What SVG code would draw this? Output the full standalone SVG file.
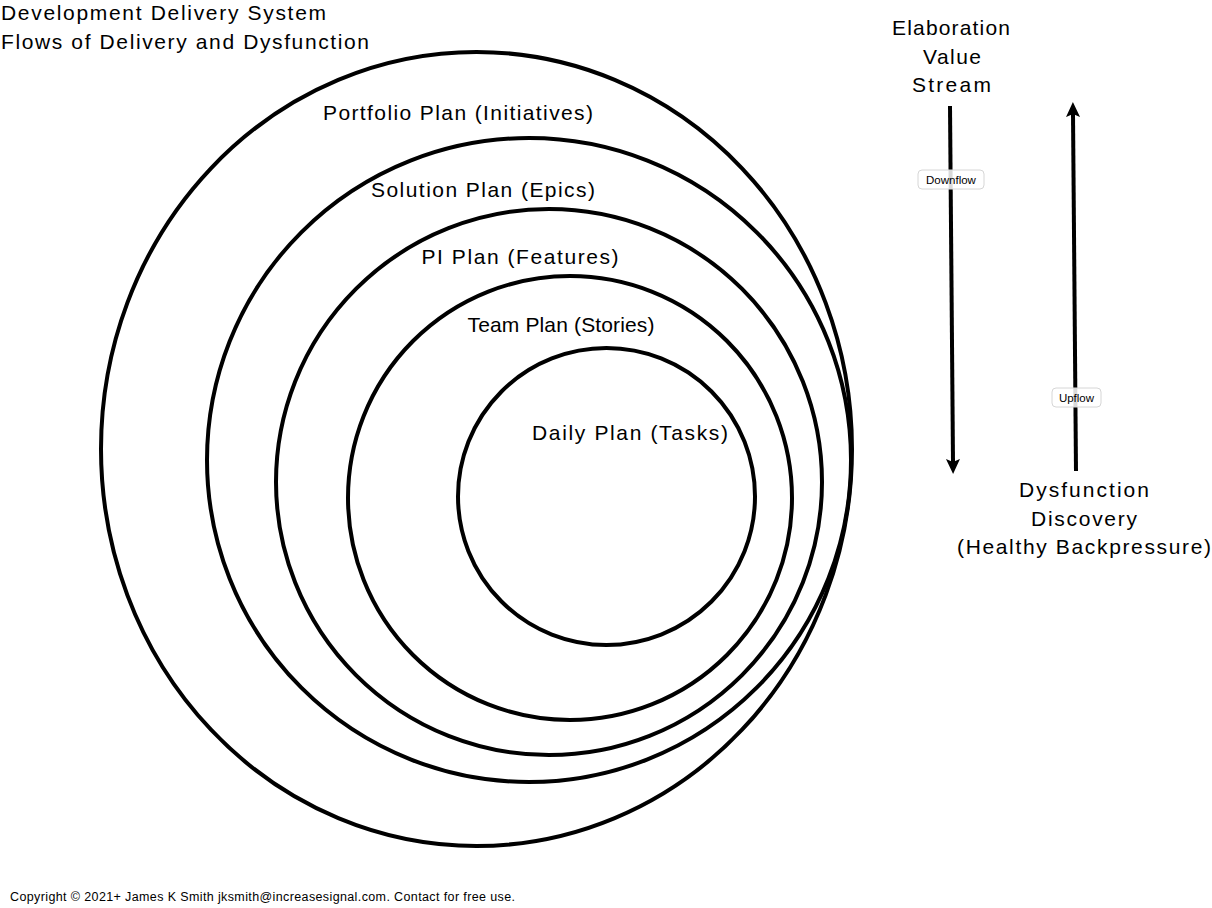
<svg xmlns="http://www.w3.org/2000/svg" width="1212" height="908" viewBox="0 0 1212 908">
<style>
.ring{fill:none;stroke:#000;stroke-width:4}
.t{font-family:"Liberation Sans",Arial,sans-serif;font-size:21px;fill:#000}
.c{text-anchor:middle}
.edge{fill:none;stroke:#000;stroke-width:4}
.lblbox{fill:#fff;fill-opacity:0.85;stroke:#d6d6d6;stroke-width:1}
.lbl{font-family:"Liberation Sans",Arial,sans-serif;font-size:11.5px;fill:#000;text-anchor:middle}
.copy{font-family:"Liberation Sans",Arial,sans-serif;font-size:12.5px;fill:#000}
</style>
<defs>
<marker id="ah" markerUnits="userSpaceOnUse" markerWidth="16" markerHeight="16" viewBox="0 0 16 16" refX="3" refY="8" orient="auto">
<path d="M0,1 L15,8 L0,15 L3,8 z" fill="#000"/>
</marker>
</defs>
<rect width="1212" height="908" fill="#fff"/>
<g id="title">
<text class="t" x="1" y="20" textLength="325">Development Delivery System</text>
<text class="t" x="1" y="49" textLength="368">Flows of Delivery and Dysfunction</text>
</g>
<g id="portfolio">
<ellipse class="ring" cx="476.5" cy="449" rx="375.5" ry="397"/>
<text class="t c" x="458" y="120" textLength="270">Portfolio Plan (Initiatives)</text>
</g>
<g id="solution">
<circle class="ring" cx="529" cy="460" r="322"/>
<text class="t c" x="483" y="197" textLength="224">Solution Plan (Epics)</text>
</g>
<g id="pi">
<circle class="ring" cx="549" cy="482" r="273"/>
<text class="t c" x="520" y="264" textLength="197">PI Plan (Features)</text>
</g>
<g id="team">
<circle class="ring" cx="570" cy="498" r="222"/>
<text class="t c" x="561" y="332" textLength="187">Team Plan (Stories)</text>
</g>
<g id="daily">
<circle class="ring" cx="606.5" cy="496.5" r="148.5"/>
<text class="t c" x="630" y="440" textLength="196">Daily Plan (Tasks)</text>
</g>
<g id="elaboration">
<text class="t c" x="951" y="35" textLength="118">Elaboration</text>
<text class="t c" x="952" y="64" textLength="58">Value</text>
<text class="t c" x="951.5" y="92" textLength="79">Stream</text>
</g>
<g id="dysfunction">
<text class="t c" x="1084" y="497" textLength="130">Dysfunction</text>
<text class="t c" x="1084" y="526" textLength="106">Discovery</text>
<text class="t c" x="1084" y="554" textLength="254">(Healthy Backpressure)</text>
</g>
<g id="connectors">
<path class="edge" d="M950,106 L953,462" marker-end="url(#ah)"/>
<rect class="lblbox" x="918" y="170" width="66" height="19" rx="4"/>
<text class="lbl" x="951" y="183.5">Downflow</text>
<path class="edge" d="M1076,471 L1073,114" marker-end="url(#ah)"/>
<rect class="lblbox" x="1052" y="388" width="49" height="19" rx="4"/>
<text class="lbl" x="1076.5" y="401.5">Upflow</text>
</g>
<text class="copy" x="10" y="901" textLength="505">Copyright © 2021+ James K Smith jksmith@increasesignal.com. Contact for free use.</text>
</svg>
